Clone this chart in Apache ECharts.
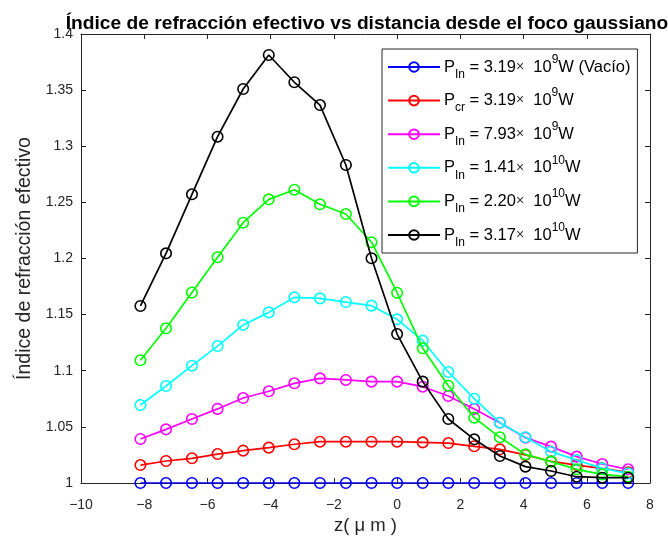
<!DOCTYPE html>
<html>
<head>
<meta charset="utf-8">
<script src="https://cdn.jsdelivr.net/npm/echarts@6/dist/echarts.min.js"></script>
<style>
  html, body { margin: 0; padding: 0; background: #fff; }
  #chart { width: 668px; height: 542px; }
</style>
</head>
<body>
<div id="chart"></div>
<script>
// Posición a lo largo del eje de propagación (µm)
const zValues = [-8.12, -7.31, -6.49, -5.68, -4.87, -4.06, -3.25, -2.44, -1.62, -0.81,
                 0, 0.81, 1.62, 2.44, 3.25, 4.06, 4.87, 5.68, 6.49, 7.31];

// Índice de refracción efectivo para cada potencia de entrada
const nVacio = [1, 1, 1, 1, 1, 1, 1, 1, 1, 1, 1, 1, 1, 1, 1, 1, 1, 1, 1, 1];
const nCritica = [1.016, 1.0196, 1.022, 1.0258, 1.0288, 1.0315, 1.0345, 1.0368, 1.0368, 1.0368,
                  1.0368, 1.0362, 1.0356, 1.0327, 1.030, 1.025, 1.0193, 1.016, 1.013, 1.0095];
const nP793 = [1.0392, 1.0478, 1.057, 1.066, 1.0757, 1.0817, 1.0888, 1.0932, 1.0918, 1.0903,
               1.0903, 1.0858, 1.0775, 1.066, 1.0537, 1.0404, 1.0324, 1.0235, 1.0169, 1.0122];
const nP141 = [1.0695, 1.0864, 1.1045, 1.122, 1.1408, 1.152, 1.1654, 1.1645, 1.1612, 1.158,
               1.1458, 1.1268, 1.0989, 1.0751, 1.0537, 1.0407, 1.0279, 1.0205, 1.013, 1.0086];
const nP220 = [1.1093, 1.1378, 1.1697, 1.2011, 1.2319, 1.2527, 1.2613, 1.2483, 1.2396, 1.2145,
               1.1695, 1.12, 1.0867, 1.0582, 1.0407, 1.0255, 1.019, 1.0122, 1.0077, 1.0056];
const nP317 = [1.1577, 1.2046, 1.2572, 1.3085, 1.351, 1.3813, 1.357, 1.3367, 1.2833, 1.2002,
               1.1327, 1.0903, 1.057, 1.0389, 1.024, 1.0146, 1.0107, 1.0056, 1.0047, 1.0047];

// Leyenda: subíndice, mantisa, exponente, sufijo
const legendSub = ['In', 'cr', 'In', 'In', 'In', 'In'];
const legendMant = ['3.19', '3.19', '7.93', '1.41', '2.20', '3.17'];
const legendExp = ['9', '9', '9', '10', '10', '10'];
const legendSuffix = ['W (Vacío)', 'W', 'W', 'W', 'W', 'W'];

const xTicks = { min: -10, max: 8, interval: 2 };
const yTicks = { min: 1, max: 1.4, interval: 0.05 };

const seriesData = [nVacio, nCritica, nP793, nP141, nP220, nP317];
const seriesColors = ['#0000ff', '#ff0000', '#ff00ff', '#00ffff', '#00ff00', '#000000'];

const seriesNames = seriesData.map((_, i) =>
  'P' + legendSub[i] + ' = ' + legendMant[i] + '× 10^' + legendExp[i] + legendSuffix[i]);

const FONT = '"Liberation Sans", Arial, Helvetica, sans-serif';
const AXIS_COLOR = '#262626';

const chart = echarts.init(document.getElementById('chart'), null, { renderer: 'canvas' });

const series = seriesData.map((vals, i) => ({
  name: seriesNames[i],
  type: 'line',
  data: vals.map((v, k) => [zValues[k], v]),
  symbol: 'circle',
  symbolSize: 10.5,
  showAllSymbol: true,
  animation: false,
  lineStyle: { color: seriesColors[i], width: 1.7 },
  itemStyle: { color: 'rgba(255,255,255,0)', borderColor: seriesColors[i], borderWidth: 1.6 },
  emphasis: { disabled: true },
  z: 2 + i
}));

const legendRich = {
  m: { fontSize: 16.5, fontFamily: FONT, color: '#000', lineHeight: 27, verticalAlign: 'middle' },
  sub: { fontSize: 12, fontFamily: FONT, color: '#000', lineHeight: 10, verticalAlign: 'bottom' },
  sup: { fontSize: 12, fontFamily: FONT, color: '#000', lineHeight: 13, verticalAlign: 'top' },
  t: { fontSize: 14, fontFamily: FONT, color: '#333', lineHeight: 27, verticalAlign: 'middle' }
};

const axisCommon = {
  axisLine: { show: true, onZero: false, lineStyle: { color: AXIS_COLOR, width: 1 } },
  axisTick: { show: true, inside: true, length: 5, lineStyle: { color: AXIS_COLOR } },
  splitLine: { show: false }
};

chart.setOption({
  backgroundColor: '#ffffff',
  animation: false,
  title: {
    text: 'Índice de refracción efectivo vs distancia desde el foco gaussiano',
    left: 362,
    textAlign: 'center',
    top: 9,
    textStyle: { fontFamily: FONT, fontSize: 19.2, fontWeight: 'bold', color: '#000' }
  },
  grid: { left: 81, right: 18, top: 34, bottom: 59, containLabel: false },
  legend: {
    orient: 'vertical',
    left: 382,
    top: 49,
    padding: [4.5, 7, 4.5, 5],
    itemGap: 6.6,
    itemWidth: 52,
    itemHeight: 12,
    backgroundColor: '#ffffff',
    borderColor: AXIS_COLOR,
    borderWidth: 1,
    borderRadius: 0,
    data: seriesNames,
    selectedMode: false,
    formatter: function (name) {
      const i = seriesNames.indexOf(name);
      return '{m|P}{sub|' + legendSub[i] + '}{m| = ' + legendMant[i] + '}{t|×}{m|  10}{sup|' +
        legendExp[i] + '}{m|' + legendSuffix[i] + '}';
    },
    textStyle: { fontFamily: FONT, fontSize: 16.5, color: '#000', rich: legendRich, padding: [0, 0, 0, -1] }
  },
  xAxis: [
    Object.assign({}, axisCommon, {
      type: 'value',
      min: xTicks.min, max: xTicks.max, interval: xTicks.interval,
      position: 'bottom',
      name: 'z( μ m )',
      nameLocation: 'middle',
      nameGap: 33,
      nameTextStyle: { fontFamily: FONT, fontSize: 18.5, color: AXIS_COLOR },
      axisLabel: {
        fontFamily: FONT, fontSize: 14, color: AXIS_COLOR, margin: 15,
        formatter: v => String(v).replace('-', '\u2212')
      }
    }),
    Object.assign({}, axisCommon, {
      type: 'value',
      min: xTicks.min, max: xTicks.max, interval: xTicks.interval,
      position: 'top',
      axisLabel: { show: false }
    })
  ],
  yAxis: [
    Object.assign({}, axisCommon, {
      type: 'value',
      min: yTicks.min, max: yTicks.max, interval: yTicks.interval,
      position: 'left',
      name: 'Índice de refracción efectivo',
      nameLocation: 'middle',
      nameGap: 43,
      nameTextStyle: { fontFamily: FONT, fontSize: 19.5, color: AXIS_COLOR },
      axisLabel: { fontFamily: FONT, fontSize: 14, color: AXIS_COLOR, margin: 8 }
    }),
    Object.assign({}, axisCommon, {
      type: 'value',
      min: yTicks.min, max: yTicks.max, interval: yTicks.interval,
      position: 'right',
      axisLabel: { show: false }
    })
  ],
  series: series
});
</script>
</body>
</html>
